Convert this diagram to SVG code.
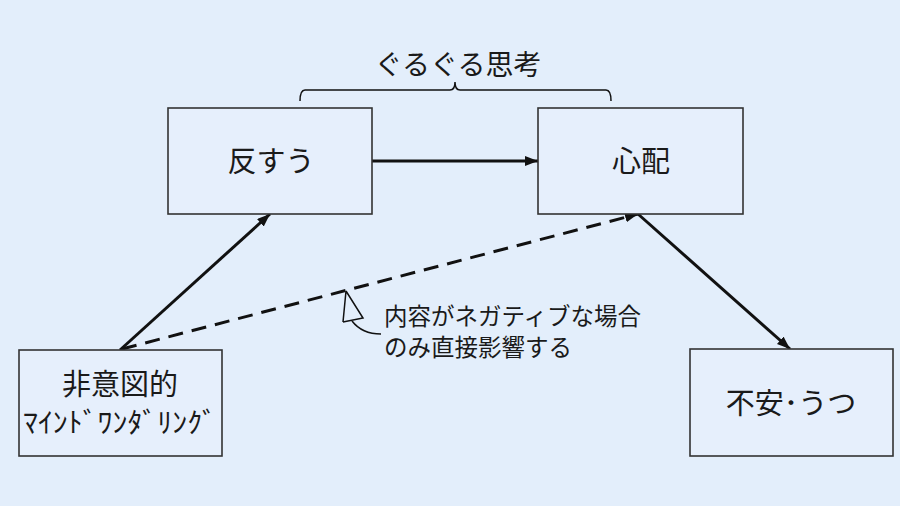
<svg xmlns="http://www.w3.org/2000/svg" width="900" height="506" viewBox="0 0 900 506">
<style>
.box{fill:#e6effc;stroke:#333333;stroke-width:1.6}
.lbl{font-family:"Noto Sans CJK JP","Noto Sans CJK SC",sans-serif;fill:#1a1a1a;text-anchor:middle}
.ln{stroke:#111111;stroke-width:3;fill:none}
.thin{stroke:#111111;stroke-width:1.5;fill:none}
.note{font-family:"Noto Sans CJK JP","Noto Sans CJK SC",sans-serif;fill:#1a1a1a;font-size:23.5px}
</style>
<defs>
<marker id="ah" markerUnits="userSpaceOnUse" markerWidth="14" markerHeight="12" refX="13" refY="5" orient="auto">
<path d="M0,0 L13,5 L0,10 z" fill="#111111"/>
</marker>
</defs>
<rect width="900" height="506" fill="#e3eefb"/>
<g id="title">
<text class="lbl" x="458" y="75" font-size="28">ぐるぐる思考</text>
<path class="thin" d="M300,101 Q300,90 305,90 L450,90 Q455,90 455,82 Q455,90 460,90 L606,90 Q611,90 611,101"/>
</g>
<g id="connectors">
<line class="ln" x1="372" y1="161" x2="538" y2="161" marker-end="url(#ah)"/>
<line class="ln" x1="120" y1="350" x2="270" y2="214" marker-end="url(#ah)"/>
<line class="ln" x1="638" y1="214" x2="790" y2="349" marker-end="url(#ah)"/>
<line class="ln" x1="122" y1="349" x2="638" y2="214" stroke-dasharray="15,9" marker-end="url(#ah)"/>
</g>
<g id="n-hansuu">
<rect class="box" x="168" y="108" width="204" height="106"/>
<text class="lbl" x="271" y="172" font-size="29">反すう</text>
</g>
<g id="n-shinpai">
<rect class="box" x="538" y="108" width="205" height="106"/>
<text class="lbl" x="641" y="172" font-size="29">心配</text>
</g>
<g id="n-mind">
<rect class="box" x="19" y="350" width="203" height="106"/>
<text class="lbl" x="120" y="395" font-size="29">非意図的</text>
<text class="lbl" x="120" y="433" font-size="28" textLength="194" lengthAdjust="spacingAndGlyphs">ﾏｲﾝﾄﾞﾜﾝﾀﾞﾘﾝｸﾞ</text>
</g>
<g id="n-fuan">
<rect class="box" x="690" y="349" width="203" height="107"/>
<text class="lbl" x="791" y="414" font-size="29">不安･うつ</text>
</g>
<g id="callout">
<path class="thin" d="M346,291 L343,322 M346,291 L363,318 L343,322 M352,321 Q362,334 381,334"/>
<text class="note" x="384" y="325">内容がネガティブな場合</text>
<text class="note" x="384" y="356">のみ直接影響する</text>
</g>
</svg>
